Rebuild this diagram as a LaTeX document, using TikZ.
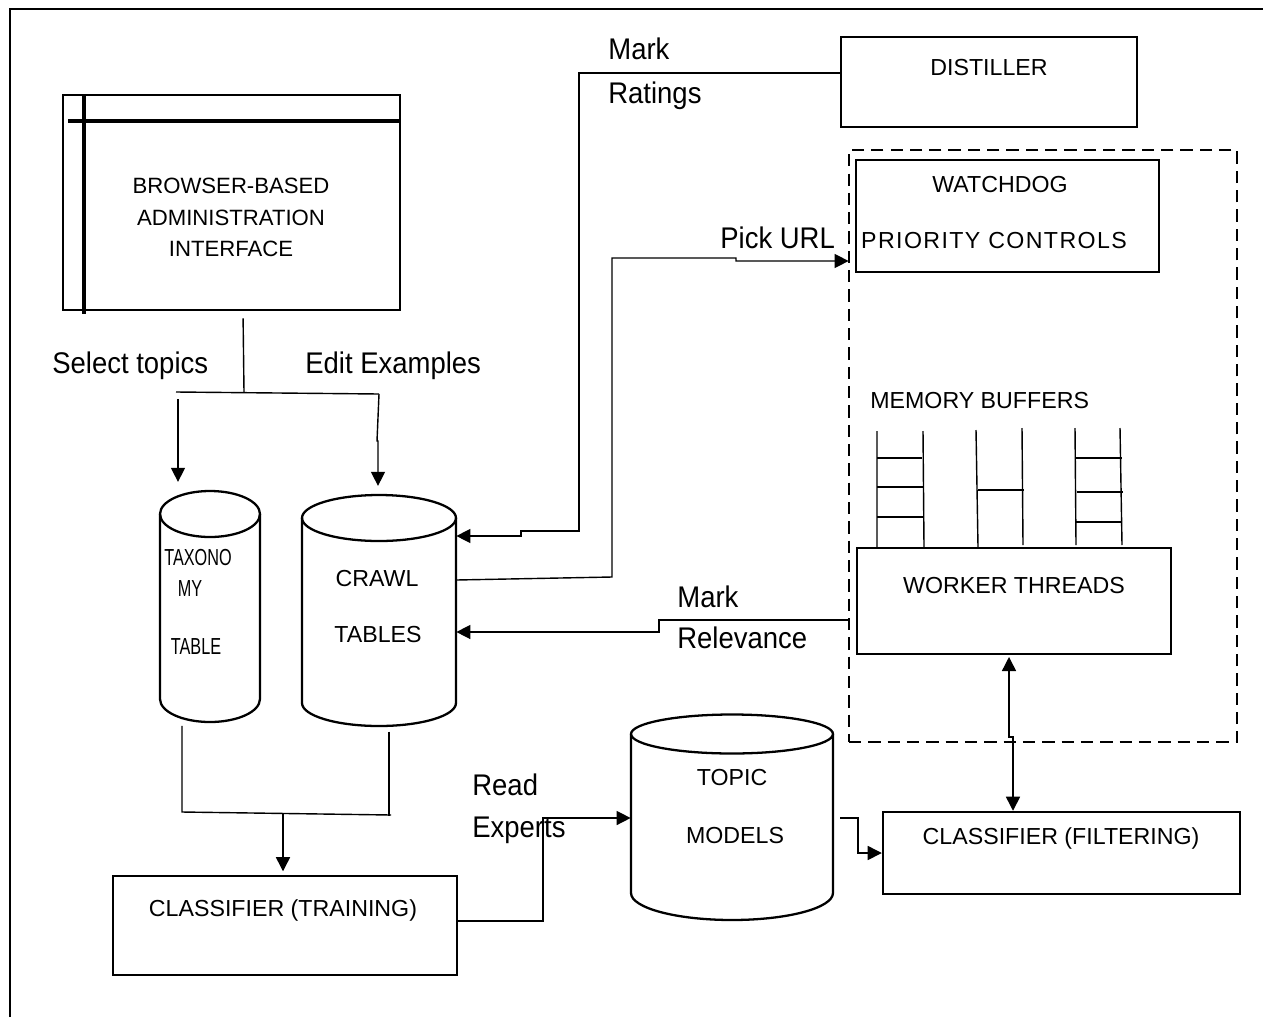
\documentclass[tikz,border=0pt]{standalone}
\usepackage{fontspec}
\setmainfont{Liberation Sans}
\newfontfamily\boxfont{Liberation Sans}
\newfontfamily\slimfont[FakeStretch=0.7]{Liberation Sans}
\newfontfamily\tagfont[FakeStretch=0.92]{Liberation Sans}
\usetikzlibrary{arrows.meta,fit}

\begin{document}
\begin{tikzpicture}[x=0.02cm,y=-0.02cm,
  box/.style={draw, line width=1.4pt, inner sep=0pt},
  frame/.style={draw=none, inner sep=0pt},
  conn/.style={line width=0.8pt},
  arr/.style={conn, -{Triangle[length=8pt,width=8pt]}},
  dblarr/.style={conn, {Triangle[length=8pt,width=8pt]}-{Triangle[length=8pt,width=8pt]}},
  drum/.style={line width=1.3pt},
  rung/.style={line width=0.8pt},
  boxtxt/.style={inner sep=0pt, anchor=base, font=\boxfont\fontsize{13.2}{16}\selectfont},
  slimtxt/.style={inner sep=0pt, anchor=base, font=\slimfont\fontsize{13.2}{16}\selectfont},
  tag/.style={inner sep=0pt, anchor=base west, font=\tagfont\fontsize{17}{20}\selectfont}]

\useasboundingbox (0,0) rectangle (1263,1017);

% page frame
\draw[line width=1pt] (10,1017) -- (10,9) -- (1263,9);

% browser window
\node[box, fit={(63,95) (400,310)}] (browser) {};
\draw[line width=1.8pt] (84,95) -- (84,314);
\draw[line width=1.8pt] (68,121) -- (400,121);
\node[boxtxt, font=\boxfont\fontsize{12.6}{15}\selectfont] (browserA) at (231,193) {BROWSER-BASED};
\node[boxtxt, font=\boxfont\fontsize{12.6}{15}\selectfont] (browserB) at (231,225) {ADMINISTRATION};
\node[boxtxt, font=\boxfont\fontsize{12.6}{15}\selectfont] (browserC) at (231,256) {INTERFACE};

% distiller
\node[box, fit={(841,37) (1137,127)}] (distiller) {};
\node[boxtxt] (distillertxt) at (989,75) {DISTILLER};

% crawler region
\node[draw, line width=1.4pt, dash pattern=on 7pt off 4pt, inner sep=0pt, fit={(849,150) (1237,742)}] (crawler) {};

\node[box, fit={(856,160) (1159,272)}] (watchdog) {};
\node[boxtxt] (watchdogA) at (1000,192) {WATCHDOG};
\node[boxtxt] (watchdogB) at (994,248) {\addfontfeature{LetterSpace=6}PRIORITY CONTROLS};

\node[boxtxt, anchor=base west] (membuf) at (870,408) {MEMORY BUFFERS};
% buffer queues
\draw[rung] (877,431) -- (877,547) (923,431) -- (924,547);
\draw[rung] (877,458) -- (922,458) (877,487) -- (924,487) (877,517) -- (923,517);
\draw[rung] (976,430) -- (978,547) (1022,428) -- (1023,545);
\draw[rung] (978,490) -- (1024,490);
\draw[rung] (1075,428) -- (1076,545) (1120,428) -- (1122,545);
\draw[rung] (1075,458) -- (1122,458) (1077,492) -- (1123,492) (1075,522) -- (1122,522);

\node[box, fit={(857,548) (1171,654)}] (worker) {};
\node[boxtxt] (workertxt) at (1014,593) {WORKER THREADS};

% classifiers
\node[box, fit={(883,812) (1240,894)}] (filter) {};
\node[boxtxt] (filtertxt) at (1061,844) {CLASSIFIER (FILTERING)};

\node[box, fit={(113,876) (457,975)}] (training) {};
\node[boxtxt] (trainingtxt) at (283,916) {CLASSIFIER (TRAINING)};

% taxonomy table
\draw[drum] (210,514) ellipse [x radius=1cm, y radius=0.46cm];
\draw[drum] (160,514) -- (160,699) arc[start angle=180, end angle=360, x radius=1cm, y radius=0.46cm] -- (260,514);
\node[frame, fit={(160,491) (260,722)}] (taxo) {};
\node[slimtxt] (taxoA) at (198,565) {TAXONO};
\node[slimtxt] (taxoB) at (190,596) {MY};
\node[slimtxt] (taxoC) at (196,654) {TABLE};

% crawl tables
\draw[drum] (379,518) ellipse [x radius=1.54cm, y radius=0.46cm];
\draw[drum] (302,518) -- (302,703) arc[start angle=180, end angle=360, x radius=1.54cm, y radius=0.46cm] -- (456,518);
\node[frame, fit={(302,495) (456,726)}] (crawl) {};
\node[boxtxt] (crawlA) at (377,586) {CRAWL};
\node[boxtxt] (crawlB) at (378,642) {TABLES};

% topic models
\draw[drum] (732,734) ellipse [x radius=2.02cm, y radius=0.39cm];
\draw[drum] (631,734) -- (631,893) arc[start angle=180, end angle=360, x radius=2.02cm, y radius=0.54cm] -- (833,734);
\node[frame, fit={(631,714) (833,920)}] (topic) {};
\node[boxtxt] (topicA) at (732,785) {TOPIC};
\node[boxtxt] (topicB) at (735,843) {MODELS};

% labels
\node[tag] (selecttag) at (52,373) {Select topics};
\node[tag] (edittag) at (305,373) {Edit Examples};
\node[tag] (markA) at (608,60) {Mark};
\node[tag] (markB) at (608,104) {Ratings};
\node[tag] (picktag) at (720,248) {Pick URL};
\node[tag] (relA) at (677,607) {Mark};
\node[tag] (relB) at (677,648) {Relevance};
\node[tag] (readA) at (472,795) {Read};
\node[tag] (readB) at (472,837) {Experts};

% browser fan-out
\coordinate (fork) at (244,392);
\coordinate (forkL) at (176,392);
\coordinate (forkR) at (379,394);
\draw[conn, shorten <=4pt] (243,0 |- browser.south) -- (fork);
\draw[conn] (forkL) -- (forkR);
\draw[arr, shorten >=5pt] (178,399) -- (178,0 |- taxo.north);
\draw[arr, shorten >=5pt] (forkR) -- (377,441) -- (378,441) -- (378,0 |- crawl.north);

% distiller -> crawl tables
\draw[arr] (distiller.west |- 0,73) -- (579,73) -- (579,531) -- (521,531) -- (521,536) -- (crawl.east |- 0,536);

% crawl tables -> watchdog
\draw[arr, shorten >=3.5pt] (crawl.east |- 0,580) -- (612,577) -- (612,258) -- (736,258) -- (736,261) -- (watchdog.west |- 0,261);

% crawler -> crawl tables
\draw[arr] (crawler.west |- 0,620) -- (659,620) -- (659,632) -- (crawl.east |- 0,632);

% worker threads <-> filtering classifier
\draw[dblarr, shorten <=1pt] (1009,0 |- worker.south) -- (1009,737) -- (1013,737) -- (1013,0 |- filter.north);

% tables -> training classifier
\coordinate (join) at (283,813);
\draw[conn, shorten <=2pt] (182,0 |- taxo.south) -- (182,812) -- (391,815);
\draw[conn, shorten <=3pt] (389,0 |- crawl.south) -- (389,816);
\draw[arr, shorten >=2pt] (join) -- (283,0 |- training.north);

% training -> topic models
\draw[arr] (training.east |- 0,921) -- (543,921) -- (543,818) -- (topic.west |- 0,818);

% topic models -> filtering classifier
\draw[arr, shorten <=4pt] (topic.east |- 0,818) -- (858,818) -- (858,853) -- (filter.west |- 0,853);

\end{tikzpicture}
\end{document}
